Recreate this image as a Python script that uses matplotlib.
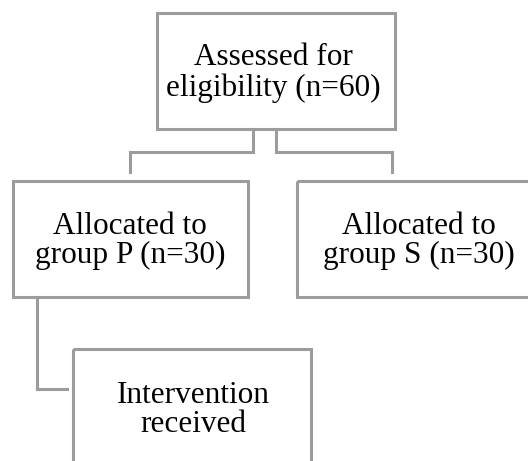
import matplotlib
matplotlib.use("Agg")
import matplotlib.pyplot as plt
from matplotlib.patches import Rectangle

# Data: node labels
labels = [
    "Assessed for\neligibility (n=60)",
    "Allocated to\ngroup P (n=30)",
    "Allocated to\ngroup S (n=30)",
    "Intervention\nreceived",
]

# Layout (pixel coordinates, y down): x0, y0, x1, y1
boxes = [
    (157, 13, 395, 129),
    (13, 181, 248, 297),
    (297, 181, 532, 297),
    (73, 349, 311, 480),
]
text_centers = [
    (273, 73),
    (130, 241),
    (419, 241),
    (193, 410),
]
connectors = [
    [(253, 129), (253, 152), (130, 152), (130, 172)],
    [(276, 129), (276, 152), (392, 152), (392, 172)],
    [(37, 297), (37, 389), (67, 389)],
]

W, H = 528, 461
fig = plt.figure(figsize=(W / 100, H / 100), dpi=100)
ax = fig.add_axes([0, 0, 1, 1])
ax.set_xlim(0, W)
ax.set_ylim(H, 0)
ax.axis("off")

line_color = "#9c9c9c"
lw = 2.2

for (x0, y0, x1, y1) in boxes:
    ax.add_patch(Rectangle((x0, y0), x1 - x0, y1 - y0, fill=False,
                           edgecolor=line_color, linewidth=lw))

for path in connectors:
    xs = [p[0] for p in path]
    ys = [p[1] for p in path]
    ax.plot(xs, ys, color=line_color, linewidth=lw, solid_joinstyle="miter")

for lab, (cx, cy) in zip(labels, text_centers):
    ax.text(cx, cy, lab, ha="center", va="center", fontsize=22.5,
            family="Liberation Serif", linespacing=1.03, color="black")

fig.savefig("out.png", dpi=100)
